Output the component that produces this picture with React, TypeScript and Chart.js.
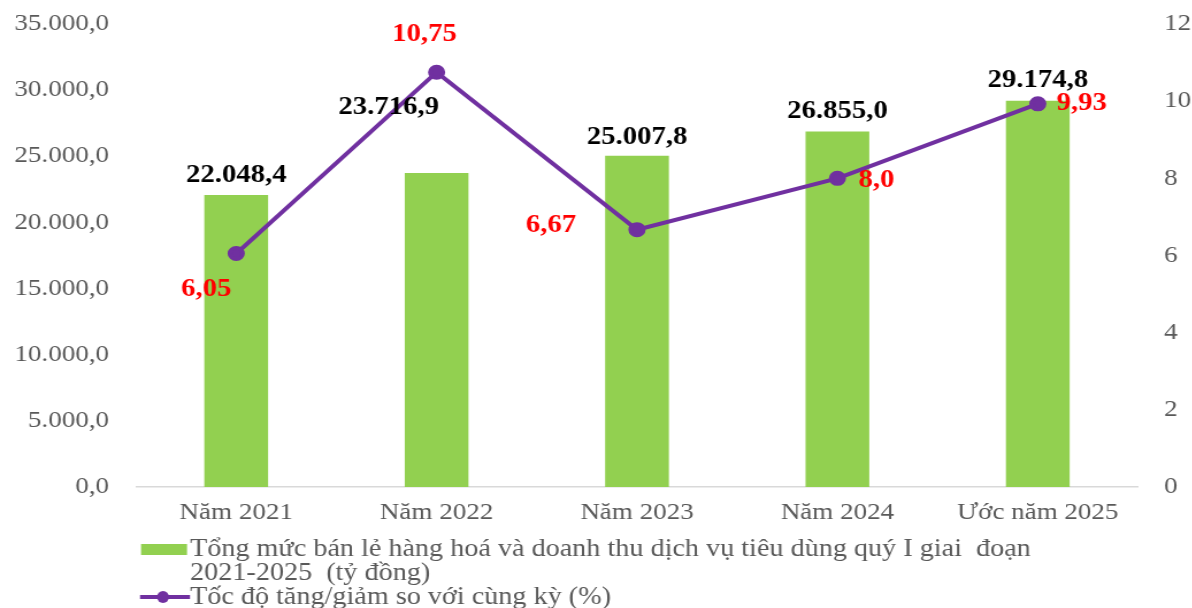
import { useEffect, useRef } from "react";
import { Chart, registerables } from "chart.js";

Chart.register(...registerables);

const categories = ["Năm 2021", "Năm 2022", "Năm 2023", "Năm 2024", "Ước năm 2025"];
const retailValues = [22048.4, 23716.9, 25007.8, 26855.0, 29174.8];
const retailLabels = ["22.048,4", "23.716,9", "25.007,8", "26.855,0", "29.174,8"];
const growthValues = [6.05, 10.75, 6.67, 8.0, 9.93];
const growthLabels = ["6,05", "10,75", "6,67", "8,0", "9,93"];
const legendBarText = [
  "Tổng mức bán lẻ hàng hoá và doanh thu dịch vụ tiêu dùng quý I giai  đoạn",
  "2021-2025  (tỷ đồng)",
];
const legendLineText = "Tốc độ tăng/giảm so với cùng kỳ (%)";

// label offsets (screen pixels) relative to bar top / point
const barLabelOffsets = [
  [0, -20],
  [-48, -66],
  [0, -19],
  [0, -20],
  [0, -21],
];
const pointLabelOffsets = [
  [-30, 36],
  [-12, -38],
  [-86, -4],
  [39, 2],
  [44, 0],
];

// horizontal stretch of the picture
const K = 1.15;
const W = Math.round(1192 / K);
const H = 608;
const PLOT_TOP = 24;

const FONT = "'Liberation Serif', 'Times New Roman', serif";
const GREEN = "#92D050";
const PURPLE = "#7030A0";
const GRAY = "#595959";

function fmtLeft(v: number) {
  const s = Math.round(v).toString().replace(/\B(?=(\d{3})+(?!\d))/g, ".");
  return s + ",0";
}

const labelPlugin = {
  id: "customLabels",
  afterDraw(chart: any) {
    const ctx = chart.ctx as CanvasRenderingContext2D;
    ctx.save();
    ctx.textAlign = "center";
    ctx.textBaseline = "middle";
    // bar labels
    const barMeta = chart.getDatasetMeta(0);
    ctx.font = `bold 25px ${FONT}`;
    ctx.fillStyle = "#000000";
    barMeta.data.forEach((el: any, i: number) => {
      const [dx, dy] = barLabelOffsets[i];
      ctx.fillText(retailLabels[i], el.x + dx / K, el.y + dy);
    });
    // point labels
    const lineMeta = chart.getDatasetMeta(1);
    ctx.font = `bold 25px ${FONT}`;
    ctx.fillStyle = "#FF0000";
    lineMeta.data.forEach((el: any, i: number) => {
      const [dx, dy] = pointLabelOffsets[i];
      ctx.fillText(growthLabels[i], el.x + dx / K, el.y + dy);
    });
    // legend
    ctx.textAlign = "left";
    ctx.fillStyle = GREEN;
    ctx.fillRect(141 / K, 544, 46 / K, 11);
    ctx.font = `24.5px ${FONT}`;
    ctx.fillStyle = GRAY;
    ctx.fillText(legendBarText[0], 190 / K, 550);
    ctx.fillText(legendBarText[1], 190 / K, 574);
    ctx.fillText(legendLineText, 190 / K, 598);
    ctx.strokeStyle = PURPLE;
    ctx.lineWidth = 4;
    ctx.beginPath();
    ctx.moveTo(140 / K, 597);
    ctx.lineTo(190 / K, 597);
    ctx.stroke();
    ctx.fillStyle = PURPLE;
    ctx.beginPath();
    ctx.ellipse(163 / K, 597, 6 / K, 6, 0, 0, Math.PI * 2);
    ctx.fill();
    ctx.restore();
  },
};

export default function App() {
  const ref = useRef<HTMLCanvasElement>(null);
  useEffect(() => {
    document.body.style.margin = "0";
    const chart = new Chart(ref.current!, {
      type: "bar",
      data: {
        labels: categories,
        datasets: [
          {
            type: "bar",
            label: legendBarText.join(" "),
            data: retailValues,
            backgroundColor: GREEN,
            borderWidth: 0,
            barThickness: 63 / K,
            yAxisID: "y",
            order: 2,
          } as any,
          {
            type: "line",
            label: legendLineText,
            data: growthValues,
            borderColor: PURPLE,
            backgroundColor: PURPLE,
            borderWidth: 4,
            pointRadius: 5.5,
            pointBackgroundColor: PURPLE,
            pointBorderColor: PURPLE,
            tension: 0,
            yAxisID: "y1",
            order: 1,
            clip: false,
          } as any,
        ],
      },
      options: {
        responsive: false,
        animation: false,
        devicePixelRatio: 1,
        layout: { autoPadding: false, padding: { top: PLOT_TOP, left: 0, right: 0, bottom: 0 } },
        plugins: { legend: { display: false }, tooltip: { enabled: false } },
        scales: {
          x: {
            grid: { display: false, drawTicks: false },
            border: { display: true, color: "#D9D9D9", width: 1.5 },
            ticks: { color: GRAY, font: { family: FONT, size: 23.5 }, padding: 12, maxRotation: 0 },
            afterFit: (s: any) => {
              s.height = 121;
            },
          },
          y: {
            position: "left",
            min: 0,
            max: 35000,
            grid: { display: false, drawTicks: false },
            border: { display: false },
            ticks: {
              stepSize: 5000,
              color: GRAY,
              font: { family: FONT, size: 23.5 },
              padding: 27 / K,
              callback: (v: any) => fmtLeft(Number(v)),
            },
            afterFit: (s: any) => {
              s.width = 136 / K;
              s.paddingTop = 0;
              s.paddingBottom = 0;
            },
          },
          y1: {
            position: "right",
            min: 0,
            max: 12,
            grid: { display: false, drawTicks: false },
            border: { display: false },
            ticks: { stepSize: 2, color: GRAY, font: { family: FONT, size: 23.5 }, padding: 26 / K },
            afterFit: (s: any) => {
              s.width = W - 1138 / K;
              s.paddingTop = 0;
              s.paddingBottom = 0;
            },
          },
        },
      } as any,
      plugins: [labelPlugin],
    });
    return () => chart.destroy();
  }, []);
  return (
    <div
      style={{
        position: "absolute",
        left: 0,
        top: 0,
        width: W,
        height: H,
        transform: `scaleX(${K})`,
        transformOrigin: "0 0",
      }}
    >
      <canvas ref={ref} width={W} height={H} style={{ display: "block" }} />
    </div>
  );
}
